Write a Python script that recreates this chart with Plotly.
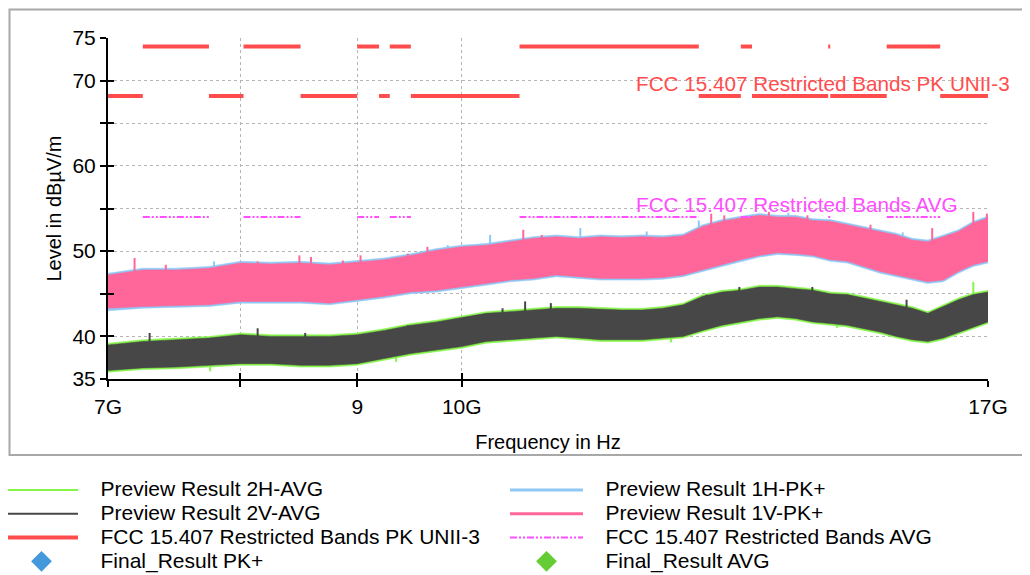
import math
import plotly.graph_objects as go

# ---------------- data ----------------
freq_ghz = [7.0, 7.25, 7.5, 7.75, 8.0, 8.25, 8.5, 8.75, 9.0, 9.25, 9.5, 9.75,
            10.0, 10.25, 10.5, 10.75, 11.0, 11.25, 11.5, 11.75, 12.0, 12.25,
            12.5, 12.75, 13.0, 13.25, 13.5, 13.75, 14.0, 14.25, 14.5, 14.75,
            15.0, 15.25, 15.5, 15.75, 16.0, 16.25, 16.5, 16.75, 17.0]

# Preview Result 1H-PK+ (envelope of the dense trace)
pk1h_top = [47.4, 48.0, 48.0, 48.2, 48.8, 48.7, 48.8, 48.6, 48.9, 49.2, 49.7, 50.3,
            50.7, 50.9, 51.3, 51.7, 51.9, 51.7, 51.9, 51.8, 51.9, 51.8,
            52.0, 53.1, 53.7, 54.1, 54.4, 54.2, 54.2, 53.8, 53.7, 53.3,
            52.9, 52.5, 52.1, 51.5, 51.3, 51.9, 52.5, 53.5, 54.1]
pk1h_bot = [43.0, 43.3, 43.4, 43.5, 43.9, 43.9, 43.9, 43.7, 44.1, 44.5, 45.0, 45.2,
            45.6, 46.0, 46.4, 46.6, 47.0, 46.8, 46.6, 46.6, 46.6, 46.7,
            47.0, 47.6, 48.2, 48.8, 49.3, 49.6, 49.5, 49.3, 48.8, 48.6,
            48.0, 47.4, 47.0, 46.6, 46.2, 46.4, 47.4, 48.2, 48.6]
# Preview Result 1V-PK+
pk1v_top = [47.2, 47.8, 47.8, 48.0, 48.6, 48.5, 48.6, 48.4, 48.7, 49.0, 49.5, 50.1,
            50.5, 50.7, 51.1, 51.5, 51.7, 51.5, 51.7, 51.6, 51.7, 51.6,
            51.8, 52.9, 53.5, 53.9, 54.2, 54.0, 54.0, 53.6, 53.5, 53.1,
            52.7, 52.3, 51.9, 51.3, 51.1, 51.7, 52.3, 53.3, 53.9]
pk1v_bot = [43.3, 43.5, 43.6, 43.7, 44.1, 44.1, 44.1, 43.9, 44.3, 44.7, 45.2, 45.4,
            45.8, 46.2, 46.6, 46.8, 47.2, 47.0, 46.8, 46.8, 46.8, 46.9,
            47.2, 47.8, 48.4, 49.0, 49.5, 49.8, 49.7, 49.5, 49.0, 48.8,
            48.2, 47.6, 47.2, 46.8, 46.4, 46.6, 47.6, 48.4, 48.8]
# Preview Result 2H-AVG
avg2h_top = [39.2, 39.6, 39.8, 40.0, 40.4, 40.2, 40.2, 40.2, 40.4, 40.9, 41.5, 41.9,
             42.4, 42.9, 43.1, 43.3, 43.5, 43.5, 43.4, 43.3, 43.3, 43.5,
             43.9, 44.9, 45.4, 45.6, 46.0, 46.0, 45.8, 45.6, 45.2, 45.1,
             44.7, 44.3, 43.9, 43.5, 42.9, 43.7, 44.5, 45.1, 45.4]
avg2h_bot = [35.8, 36.1, 36.2, 36.4, 36.6, 36.6, 36.4, 36.4, 36.6, 37.2, 37.8, 38.2,
             38.6, 39.2, 39.4, 39.6, 39.8, 39.6, 39.4, 39.4, 39.4, 39.6,
             39.8, 40.5, 41.1, 41.5, 41.9, 42.1, 41.9, 41.5, 41.3, 41.1,
             40.7, 40.3, 39.8, 39.4, 39.2, 39.6, 40.2, 40.9, 41.5]
# Preview Result 2V-AVG
avg2v_top = [39.0, 39.4, 39.6, 39.8, 40.2, 40.0, 40.0, 40.0, 40.2, 40.7, 41.3, 41.7,
             42.2, 42.7, 42.9, 43.1, 43.3, 43.3, 43.2, 43.1, 43.1, 43.3,
             43.7, 44.7, 45.2, 45.4, 45.8, 45.8, 45.6, 45.4, 45.0, 44.9,
             44.5, 44.1, 43.7, 43.3, 42.7, 43.5, 44.3, 44.9, 45.2]
avg2v_bot = [36.0, 36.3, 36.4, 36.6, 36.8, 36.8, 36.6, 36.6, 36.8, 37.4, 38.0, 38.4,
             38.8, 39.4, 39.6, 39.8, 40.0, 39.8, 39.6, 39.6, 39.6, 39.8,
             40.0, 40.7, 41.3, 41.7, 42.1, 42.3, 42.1, 41.7, 41.5, 41.3,
             40.9, 40.5, 40.0, 39.6, 39.4, 39.8, 40.4, 41.1, 41.7]

# isolated spikes standing out of the dense traces: frequency, base level, peak level
pk1v_spike_f = [7.19, 7.42, 8.14, 8.49, 8.59, 8.87, 9.03, 9.47, 9.66, 10.64, 10.84,
                12.86, 13.03, 13.63, 14.17, 15.1, 16.07, 16.75, 16.98]
pk1v_spike_base = [46.8, 47.4, 48.0, 48.1, 48.1, 48.0, 48.2, 48.9, 49.4, 50.9, 51.0,
                   52.7, 53.1, 53.6, 53.4, 52.3, 50.9, 52.8, 53.4]
pk1v_spike_top = [49.2, 48.4, 48.8, 49.5, 49.3, 48.9, 49.5, 49.7, 50.5, 52.5, 51.9,
                  54.4, 54.2, 54.6, 54.2, 53.1, 52.7, 54.6, 54.4]
pk1h_spike_f = [7.79, 9.86, 10.29, 11.27, 12.05, 12.7, 13.9, 15.6]
pk1h_spike_base = [47.6, 49.8, 50.4, 51.2, 51.4, 52.2, 53.6, 51.4]
pk1h_spike_top = [48.8, 50.7, 51.9, 52.7, 52.3, 53.6, 54.5, 52.2]
avg2v_spike_f = [7.3, 8.14, 8.54, 9.47, 9.9, 10.42, 10.66, 10.94, 12.8, 13.23, 14.24, 15.66]
avg2v_spike_base = [39.2, 39.8, 39.8, 41.0, 41.6, 42.4, 42.6, 42.8, 44.3, 45.0, 45.2, 43.1]
avg2v_spike_top = [40.4, 40.95, 40.4, 41.3, 41.9, 43.3, 44.1, 43.9, 44.9, 45.8, 45.8, 44.3]
avg2h_spike_f = [7.76, 9.36, 12.35, 14.6, 16.75]
avg2h_spike_base = [36.6, 37.6, 40.0, 41.6, 44.6]
avg2h_spike_top = [35.9, 37.0, 39.3, 41.0, 46.4]

# limit lines
restricted_start_ghz = [7.25, 8.025, 9.0, 9.3, 10.6, 13.25, 14.47, 15.35]
restricted_stop_ghz = [7.75, 8.5, 9.2, 9.5, 12.7, 13.4, 14.5, 16.2]
pk_limit_restricted = 74.0
pk_limit_unii3 = 68.2
avg_limit_restricted = 54.0
f_start_ghz = 7.0
f_stop_ghz = 17.0

# axes
x_tick_ghz = [7, 8, 9, 10, 17]
x_tick_text = ["7G", "", "9", "10G", "17G"]
y_tick_vals = [35, 40, 45, 50, 55, 60, 65, 70, 75]
y_tick_text = ["35", "40", "", "50", "", "60", "", "70", "75"]
y_range = [35, 75]

# ---------------- styling ----------------
FONT = "Liberation Sans, Arial, sans-serif"
C_2H = "#86f54a"
C_1H = "#8ec8f6"
C_2V = "#474747"
C_1V = "#ff6699"
C_PK = "#ff4d4d"
C_AVG = "#ff4dff"
C_FPK = "#4499dd"
C_FAVG = "#66cc33"

G = 1e9
fhz = [f * G for f in freq_ghz]


def band(top, bot):
    return fhz + fhz[::-1], list(top) + list(bot)[::-1]


def spikes(fs, bases, tops):
    xs, ys = [], []
    for f, b, t in zip(fs, bases, tops):
        xs += [f * G, f * G, None]
        ys += [b, t, None]
    return xs, ys


fig = go.Figure()

layers = [
    (avg2h_top, avg2h_bot, C_2H, (avg2h_spike_f, avg2h_spike_base, avg2h_spike_top)),
    (avg2v_top, avg2v_bot, C_2V, (avg2v_spike_f, avg2v_spike_base, avg2v_spike_top)),
    (pk1h_top, pk1h_bot, C_1H, (pk1h_spike_f, pk1h_spike_base, pk1h_spike_top)),
    (pk1v_top, pk1v_bot, C_1V, (pk1v_spike_f, pk1v_spike_base, pk1v_spike_top)),
]
for top, bot, col, sp in layers:
    bx, by = band(top, bot)
    fig.add_trace(go.Scatter(x=bx, y=by, mode="lines", fill="toself", fillcolor=col,
                             line=dict(width=0.5, color=col), showlegend=False,
                             hoverinfo="skip"))
    sx, sy = spikes(*sp)
    fig.add_trace(go.Scatter(x=sx, y=sy, mode="lines", line=dict(color=col, width=2),
                             showlegend=False, hoverinfo="skip"))

# limit lines
pk_x, pk_y, avg_x, avg_y = [], [], [], []
prev = f_start_ghz
for s, e in zip(restricted_start_ghz, restricted_stop_ghz):
    if s > prev:
        pk_x += [prev * G, s * G, None]
        pk_y += [pk_limit_unii3, pk_limit_unii3, None]
    pk_x += [s * G, e * G, None]
    pk_y += [pk_limit_restricted, pk_limit_restricted, None]
    avg_x += [s * G, e * G, None]
    avg_y += [avg_limit_restricted, avg_limit_restricted, None]
    prev = e
if prev < f_stop_ghz:
    pk_x += [prev * G, f_stop_ghz * G, None]
    pk_y += [pk_limit_unii3, pk_limit_unii3, None]

PAD = "\u00a0\u00a0\u00a0"


def lname(s):
    return '<span style="font-size:21px">' + PAD + s + '</span>'


fig.add_trace(go.Scatter(x=pk_x, y=pk_y, mode="lines", line=dict(color=C_PK, width=4),
                         name=lname("FCC 15.407 Restricted Bands PK UNII-3"),
                         legend="legend", legendrank=3, hoverinfo="skip"))
fig.add_trace(go.Scatter(x=avg_x, y=avg_y, mode="lines",
                         line=dict(color=C_AVG, width=2, dash="7px,2px,2px,2px,2px,2px"),
                         name=lname("FCC 15.407 Restricted Bands AVG"),
                         legend="legend2", legendrank=3, hoverinfo="skip"))

# legend entries of the dense preview traces
for nm, col, w, lg, rk in [("Preview Result 2H-AVG", C_2H, 2, "legend", 1),
                           ("Preview Result 1H-PK+", C_1H, 3, "legend2", 1),
                           ("Preview Result 2V-AVG", C_2V, 2, "legend", 2),
                           ("Preview Result 1V-PK+", C_1V, 3, "legend2", 2)]:
    fig.add_trace(go.Scatter(x=[None], y=[None], mode="lines", line=dict(color=col, width=w),
                             name=lname(nm), legend=lg, legendrank=rk))

fig.add_trace(go.Scatter(x=[None], y=[None], mode="markers",
                         marker=dict(symbol="diamond", size=16, color=C_FPK),
                         name=lname("Final_Result PK+"), legend="legend", legendrank=4))
fig.add_trace(go.Scatter(x=[None], y=[None], mode="markers",
                         marker=dict(symbol="diamond", size=16, color=C_FAVG),
                         name=lname("Final_Result AVG"), legend="legend2", legendrank=4))

# helper trace for the crossing (inside) tick marks
fig.add_trace(go.Scatter(x=[None], y=[None], xaxis="x2", yaxis="y2", showlegend=False,
                         hoverinfo="skip"))

xr = [math.log10(f_start_ghz * G), math.log10(f_stop_ghz * G)]
xtv = [v * G for v in x_tick_ghz]

# plot area: 880 x 341 px
ML, MT, PW, PH = 100, 30, 880, 341
legend_common = dict(orientation="v", xref="paper", yref="paper",
                     xanchor="left", yanchor="top", y=(MT + PH - 465) / PH,
                     font=dict(size=16, family=FONT, color="black"),
                     itemwidth=73, traceorder="normal", bgcolor="rgba(0,0,0,0)",
                     tracegroupgap=0)

fig.update_layout(
    width=1030, height=575,
    margin=dict(l=ML, r=1030 - ML - PW, t=MT, b=575 - MT - PH, autoexpand=False),
    paper_bgcolor="white", plot_bgcolor="white",
    font=dict(family=FONT, size=21, color="black"),
    showlegend=True,
    legend=dict(x=(-8 - ML) / PW, **legend_common),
    legend2=dict(x=(497 - ML) / PW, **legend_common),
    xaxis=dict(type="log", range=xr, tickvals=xtv, ticktext=x_tick_text,
               ticks="outside", ticklen=6, tickwidth=2, tickcolor="black",
               showline=True, linecolor="black", linewidth=2,
               showgrid=True, gridcolor="#b5b5b5", griddash="dot", gridwidth=1,
               zeroline=False, tickfont=dict(size=21), ticklabelstandoff=2,
               title=dict(text="Frequency in Hz", font=dict(size=20), standoff=18)),
    yaxis=dict(range=y_range, tickvals=y_tick_vals, ticktext=y_tick_text,
               ticks="outside", ticklen=6, tickwidth=2, tickcolor="black",
               showline=True, linecolor="black", linewidth=2,
               showgrid=True, gridcolor="#b5b5b5", griddash="dot", gridwidth=1,
               zeroline=False, tickfont=dict(size=21),
               title=dict(text="Level in dBµV/m", font=dict(size=20), standoff=5)),
    xaxis2=dict(type="log", range=xr, overlaying="x", anchor="y", side="bottom",
                tickvals=xtv, ticks="inside", ticklen=6, tickwidth=2, tickcolor="black",
                showticklabels=False, showgrid=False, showline=False, zeroline=False),
    yaxis2=dict(range=y_range, overlaying="y", anchor="x", side="left",
                tickvals=y_tick_vals, ticks="inside", ticklen=6, tickwidth=2,
                tickcolor="black", showticklabels=False, showgrid=False,
                showline=False, zeroline=False),
    annotations=[
        dict(text="FCC 15.407 Restricted Bands PK UNII-3", xref="paper", yref="paper",
             x=0.598, y=(379 - 83) / 341, xanchor="left", yanchor="middle",
             showarrow=False, font=dict(size=20.7, color=C_PK, family=FONT)),
        dict(text="FCC 15.407 Restricted Bands AVG", xref="paper", yref="paper",
             x=0.598, y=(379 - 204) / 341, xanchor="left", yanchor="middle",
             showarrow=False, font=dict(size=20.7, color=C_AVG, family=FONT)),
    ],
    # light grey frame around the chart panel
    shapes=[dict(type="rect", xref="paper", yref="paper",
                 x0=(1.5 - ML) / PW, x1=1.06, y0=(MT + PH - 447) / PH,
                 y1=(MT + PH - 1.5) / PH,
                 line=dict(color="#a8a8a8", width=2), fillcolor="rgba(0,0,0,0)",
                 layer="below")],
)

fig.write_html("out.html")
